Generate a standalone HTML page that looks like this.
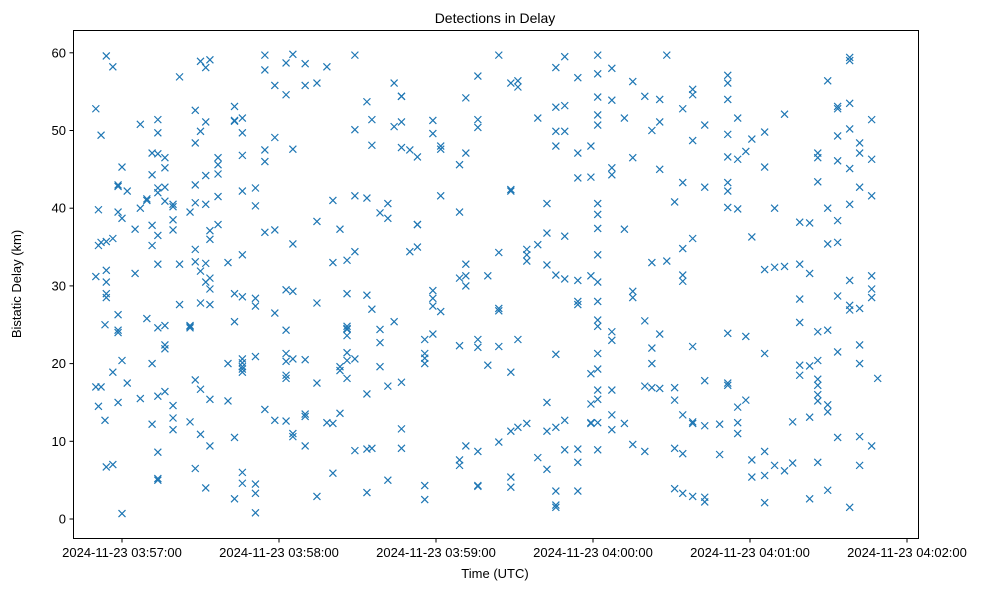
<!DOCTYPE html>
<html><head><meta charset="utf-8">
<style>
body{margin:0;background:#fff;}
svg text{font-family:"Liberation Sans","DejaVu Sans",sans-serif;fill:#000;}
</style></head>
<body>
<svg id="chart" width="988" height="590" viewBox="0 0 988 590" xmlns="http://www.w3.org/2000/svg">
<rect x="0" y="0" width="988" height="590" fill="#fff"/>
<text x="495" y="23" font-size="14" text-anchor="middle">Detections in Delay</text>
<g id="marks"></g>
<g id="axes"></g>
<rect x="73.5" y="30.5" width="845" height="508" fill="none" stroke="#000" stroke-width="1"/>
<text x="495" y="578" font-size="13" text-anchor="middle">Time (UTC)</text>
<text transform="translate(21,284) rotate(-90)" font-size="13" text-anchor="middle">Bistatic Delay (km)</text>
</svg>
<script>
// seconds after 03:57:00 for each column of detections, and delay (km) values in that column
const columnTimes = [-10,-9,-8,-6.5,-6,-3.5,-1.5,0,2,5,7,9.5,11.5,13.7,16.4,19.5,22,26,28,30,32,33.6,36.7,40.5,43,46,51,54.6,58.4,62.7,65.3,70,74.5,78.3,80.6,83.3,86,89,93.6,95.5,98.6,101.6,104,106.8,110,112.9,115.7,118.8,121.8,129,131.4,136,139.8,144,148.6,151.3,154.7,158.9,162.4,165.8,169.2,174.2,179.2,181.8,187.2,192,195.2,199.8,202.5,205.5,208.2,211.2,214.3,218.1,222.7,228.4,231.5,235.3,238.4,240.7,245.6,249.4,253.2,256.3,259,262.8,265.9,269.7,273.5,278.1,281.9,286.5,288.8];
const columnDelays = [
[52.8,31.2,17],[39.8,14.5,35.2],[49.4,17,35.6],[25,12.7],[59.6,35.7,30.5,29,28.5,32,6.7],[58.2,7,18.9,36.1],
[24.3,24,15,43,42.8,39.5,26.3],[38.7,20.4,45.3,0.7],[42.2,17.5],[31.6,37.3],[50.8,40,15.5],[41,41.2,25.8],
[47.1,44.3,35.2,20,12.2,37.8],[51.4,49.7,47,42,42.6,36.5,32.8,15.8,8.6,5.2,5,24.6],[46.5,45.2,42.7,40.9,24.9,22.4,21.9,16.4],
[40.5,38.5,37.2,40.2,11.5,14.6,13],[56.9,32.8,27.6],[24.6,24.8,24.9,39.5,12.5],[52.6,48.4,34.7,33.1,43,40.7,17.9,6.5],
[58.9,49.9,31.9,27.8,16.7,10.9],[58.1,51.1,44.2,40.5,32.9,30.5,4],[59.1,37.1,36,29.6,31,27.6,15.4,9.4],[45.6,44.4,46.5,41.5,37.9],
[15.2,20,33],[53.1,51.2,51.3,29,25.4,10.5,2.6],[51.6,49.7,46.8,42.2,34,28.6,19.6,19.3,18.9,20.1,20.6,6,4.6],
[42.6,40.3,28.4,27.4,20.9,4.5,3.3,0.8],[59.7,57.8,47.5,46,36.9,14.1],[55.8,49.1,37.2,26.5,12.7],
[58.7,54.6,29.5,24.3,21.3,20.3,18.5,18.1,12.6],[59.8,47.6,35.4,29.3,20.6,10.6,11],[55.8,58.6,20.5,13.2,13.5,9.4],
[38.3,27.8,17.5,2.9,56.1],[58.2,12.4],[41,33,12.3,5.9],[37.3,19.6,19.1,13.6],[24.5,24.4,24.5,24.8,23.6,29,33.3,21.4,20.4,18.1],
[59.7,50.1,41.6,34.4,20.6,8.8],[53.7,41.3,28.8,16.1,9,3.4],[48.1,51.4,27,9.1],[39.4,24.4,22.7,19.6],[40.6,38.7,17.1,5],
[56.1,50.5,25.4],[54.4,54.4,51.1,47.8,11.6,9.1,17.6],[47.5,34.4],[37.9,37.9,35,46.6],[23.1,21.3,20.7,20,2.5,4.3],
[51.3,49.6,29.4,28.4,27.4,23.8],[48,47.6,41.6,26.7],[39.5,45.6,31,22.3,7.6,6.9],[54.2,47.1,32.8,31.3,30,9.4],
[57,51.4,50.4,22.1,23.1,8.7,4.2,4.3],[31.3,19.8],[59.7,34.3,26.8,27.1,22.2,9.9],[56.1,42.4,42.2,18.9,11.3,5.4,4.1],
[56.4,55.6,23.1,11.8],[34.7,34,33.2,12.3],[35.3,51.6,7.9],[40.6,36.8,32.7,15,11.3,6.4],
[58.1,53,49.9,48,31.4,21.2,11.8,3.6,1.8,1.5],[59.5,53.2,49.9,36.4,30.9,12.7,8.9],[56.8,47.1,43.9,30.7,27.6,28,9,7.3,3.6],
[44,48,31.3,18.7,14.8,12.3,12.4],[59.7,57.3,54.3,52,50.7,40.6,39.2,37.4,34,30.5,28,25.6,24.8,21.3,19.3,16.6,15.4,8.9,12.4],
[58,53.9,44.3,45.2,23,24.1,13.4,11.5,16.6],[51.6,37.3,12.3],[56.3,46.5,29.3,28.5,9.6],[54.4,25.5,17.1,8.7],
[50,33,22,20,16.9],[54,51.1,45,23.8,16.8],[59.7,33.2],[40.8,15.3,16.9,9.1,3.9],[52.8,43.3,34.8,31.4,30.6,13.4,8.4,3.3],
[54.6,55.3,48.7,12.3,36.1,12.5,2.9,22.2],[42.7,50.7,17.8,2.2,2.8,12],[12.2,8.3],
[56.1,57.1,54,49.5,46.6,43.3,40.1,42.2,23.9,17.5,17.2],[51.6,46.3,39.9,11,14.4,12.4],[47.3,23.5,15.3],[36.3,48.9,7.6,5.4],
[49.8,45.3,21.3,5.6,2.1,8.7,32.1],[40,32.4,6.9],[52.1,32.5,6.2],[12.5,7.2],[38.2,32.8,28.3,25.3,18.5,19.8],
[38.1,31.6,19.7,13.1,2.6],[46.5,47.1,43.4,18,17.2,16,24.1,20.4,7.3,15.2],[56.4,40,35.4,24.3,14.7,13.8,3.7],
[53.1,52.8,49.3,46.1,38.4,35.6,28.7,21.5,10.5],[59.4,59,53.5,50.2,45.1,40.5,30.7,26.9,27.5,1.5],
[47.1,48.4,42.7,22.4,20,10.6,6.9,27.1],[51.4,46.3,41.6,29.6,31.3,28.5,9.4],[18.1]];
const xTickSeconds = [0,60,120,180,240,300];
const xTickLabels = ["2024-11-23 03:57:00","2024-11-23 03:58:00","2024-11-23 03:59:00","2024-11-23 04:00:00","2024-11-23 04:01:00","2024-11-23 04:02:00"];
const yTickValues = [0,10,20,30,40,50,60];

const NS="http://www.w3.org/2000/svg";
function xScale(s){return 122 + s*157/60;}
function yScale(d){return 519 - d*7.77;}
const marks=document.getElementById('marks');
const axes=document.getElementById('axes');
columnTimes.forEach((t,i)=>{
  (columnDelays[i]||[]).forEach(d=>{
    const x=xScale(t), y=yScale(d), r=3.5;
    const p=document.createElementNS(NS,'path');
    p.setAttribute('d',`M${x-r},${y-r}L${x+r},${y+r}M${x-r},${y+r}L${x+r},${y-r}`);
    p.setAttribute('stroke','#1f77b4');p.setAttribute('stroke-width','1.2');p.setAttribute('fill','none');
    
    
    marks.appendChild(p);
  });
});
xTickSeconds.forEach((s,i)=>{
  const x=xScale(s);
  const l=document.createElementNS(NS,'line');
  l.setAttribute('x1',x);l.setAttribute('x2',x);l.setAttribute('y1',538.5);l.setAttribute('y2',542.5);l.setAttribute('stroke','#000');
  
  
  axes.appendChild(l);
  const tx=document.createElementNS(NS,'text');
  tx.setAttribute('x',x);tx.setAttribute('y',557);tx.setAttribute('font-size','13');tx.setAttribute('text-anchor','middle');
  tx.textContent=xTickLabels[i];
  
  
  axes.appendChild(tx);
});
yTickValues.forEach(v=>{
  const y=yScale(v);
  const l=document.createElementNS(NS,'line');
  l.setAttribute('x1',69.5);l.setAttribute('x2',73.5);l.setAttribute('y1',y);l.setAttribute('y2',y);l.setAttribute('stroke','#000');
  
  
  axes.appendChild(l);
  const tx=document.createElementNS(NS,'text');
  tx.setAttribute('x',66);tx.setAttribute('y',y+4.5);tx.setAttribute('font-size','13');tx.setAttribute('text-anchor','end');
  tx.textContent=v;
  
  
  axes.appendChild(tx);
});
</script>
</body></html>
